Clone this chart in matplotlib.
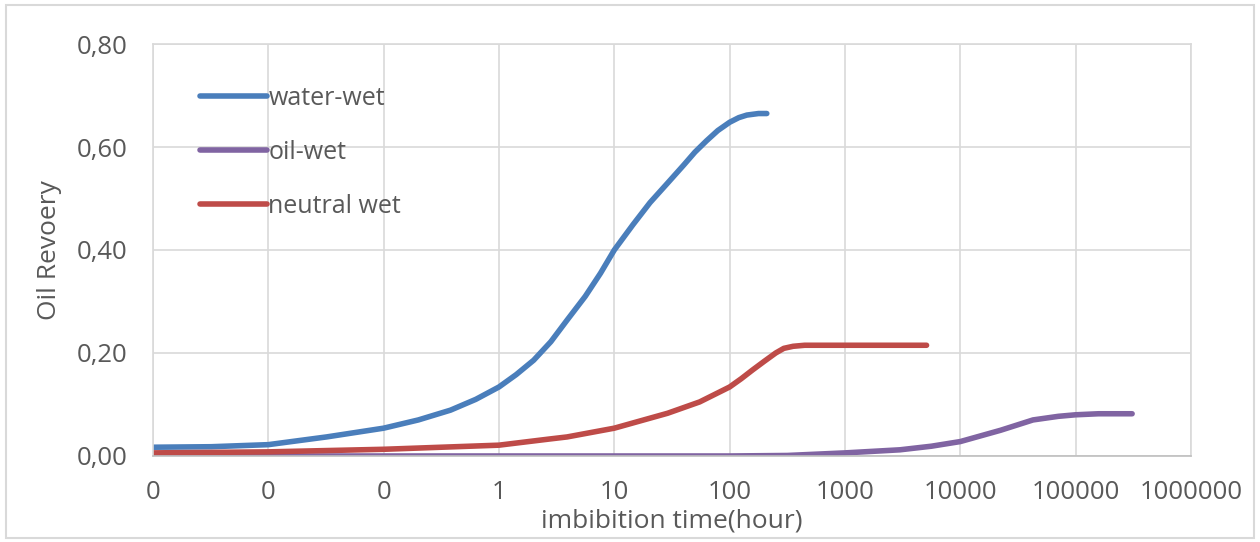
import numpy as np
import matplotlib.pyplot as plt
from matplotlib.patches import Rectangle
from matplotlib.ticker import FixedLocator, FixedFormatter

# values (x = imbibition time in hours, log scale)
water_t = [0.001, 0.0032, 0.01, 0.032, 0.1, 0.2, 0.38, 0.63, 1, 1.41, 2, 2.82, 3.9, 5.6, 7.6, 10, 14.5, 20.4,
           29, 40, 50, 63, 79, 100, 120, 141, 178, 210]
water_r = [0.017, 0.018, 0.022, 0.037, 0.054, 0.07, 0.089, 0.11, 0.134, 0.158, 0.186, 0.222, 0.264, 0.31, 0.355,
           0.40, 0.449, 0.492, 0.53, 0.565, 0.59, 0.612, 0.632, 0.648, 0.657, 0.662, 0.665, 0.665]

oil_t = [0.001, 1, 100, 316, 1000, 3000, 5620, 10000, 22400, 42700, 70800, 100000, 158000, 309000]
oil_r = [0.0, 0.0, 0.0, 0.001, 0.006, 0.012, 0.019, 0.028, 0.05, 0.07, 0.077, 0.08, 0.082, 0.082]

neutral_t = [0.001, 0.01, 0.1, 1, 2.75, 3.9, 10, 29, 55, 100, 126, 158, 200, 251, 295, 355, 447, 1000, 5100]
neutral_r = [0.006, 0.008, 0.013, 0.021, 0.033, 0.037, 0.054, 0.083, 0.105, 0.134, 0.15, 0.167, 0.184, 0.2, 0.209,
             0.213, 0.215, 0.215, 0.215]

x_ticks = [1e-3, 1e-2, 1e-1, 1, 10, 100, 1000, 10000, 100000, 1000000]
x_tick_labels = ['0', '0', '0', '1', '10', '100', '1000', '10000', '100000', '1000000']
y_ticks = [0.0, 0.2, 0.4, 0.6, 0.8]
y_tick_labels = ['0,00', '0,20', '0,40', '0,60', '0,80']

grey_text = '#595959'
grid_col = '#D9D9D9'

plt.rcParams['font.family'] = ['Open Sans', 'DejaVu Sans']

fig = plt.figure(figsize=(12.6, 5.42), dpi=100)
ax = fig.add_axes([0.1214, 0.1587, 0.8238, 0.7601])

ax.plot(water_t, water_r, color='#4A7EBB', lw=4, solid_capstyle='round', label='water-wet')
ax.plot(oil_t, oil_r, color='#8064A2', lw=4, solid_capstyle='round', label='oil-wet')
ax.plot(neutral_t, neutral_r, color='#BE4B48', lw=4, solid_capstyle='round', label='neutral wet')

ax.set_xscale('log')
ax.set_xlim(1e-3, 1e6)
ax.set_ylim(0, 0.8)
ax.xaxis.set_major_locator(FixedLocator(x_ticks))
ax.xaxis.set_major_formatter(FixedFormatter(x_tick_labels))
ax.xaxis.set_minor_locator(FixedLocator([]))
ax.set_yticks(y_ticks)
ax.set_yticklabels(y_tick_labels)

ax.grid(True, color=grid_col, lw=1.2)
ax.set_axisbelow(True)
for side in ['top', 'right', 'left']:
    ax.spines[side].set_color(grid_col)
    ax.spines[side].set_linewidth(1.2)
ax.spines['bottom'].set_color('#BFBFBF')
ax.spines['bottom'].set_linewidth(1.2)

ax.tick_params(axis='both', length=0, labelsize=18.5, labelcolor=grey_text)
ax.tick_params(axis='x', pad=17)
ax.tick_params(axis='y', pad=18)

ax.set_xlabel('imbibition time(hour)', fontsize=19, color=grey_text, labelpad=3)
ax.set_ylabel('Oil Revoery', fontsize=19, color=grey_text, labelpad=11)

leg = ax.legend(loc='upper left', bbox_to_anchor=(0.045, 0.898), frameon=False, borderpad=0,
                borderaxespad=0, fontsize=18, handlelength=2.7, handletextpad=0.05, labelspacing=1.15)
for t in leg.get_texts():
    t.set_color(grey_text)

fig.patches.append(Rectangle((0.005, 0.008), 0.99, 0.982, transform=fig.transFigure,
                             fill=False, edgecolor=grid_col, lw=1.5))

fig.savefig('out.png', dpi=100)
